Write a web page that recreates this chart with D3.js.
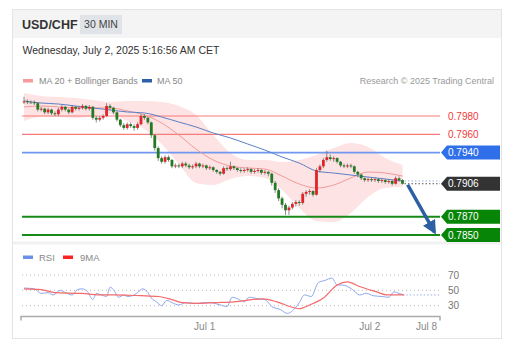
<!DOCTYPE html>
<html>
<head>
<meta charset="utf-8">
<script src="https://cdn.jsdelivr.net/npm/d3@7"></script>
<style>
body { margin: 0; background: #fff; font-family: "Liberation Sans", Arial, sans-serif; }
text { font-family: "Liberation Sans", Arial, sans-serif; }
</style>
</head>
<body>
<svg id="chart" width="519" height="358"></svg>
<script>
// 30 min candles, Sun 22:00 -> Wed 05:00
var firstOpen = 0.7995;
var closes = [0.7996,0.7995,0.7995,0.7994,0.7987,0.7988,0.7984,0.7987,0.7983,0.7982,
	0.7987,0.7990,0.7987,0.7984,0.7990,0.7988,0.7989,0.7991,0.7988,0.7990,
	0.7978,0.7976,0.7978,0.7980,0.7991,0.7989,0.7984,0.7976,0.7970,0.7967,
	0.7971,0.7969,0.7967,0.7971,0.7980,0.7978,0.7973,0.7959,0.7945,0.7934,
	0.7930,0.7935,0.7932,0.7925,0.7926,0.7925,0.7928,0.7926,0.7924,0.7925,
	0.7928,0.7925,0.7926,0.7923,0.7924,0.7921,0.7919,0.7917,0.7923,0.7922,
	0.7925,0.7923,0.7921,0.7920,0.7921,0.7922,0.7919,0.7920,0.7921,0.7918,
	0.7919,0.7917,0.7907,0.7899,0.7890,0.7883,0.7877,0.7880,0.7884,0.7886,
	0.7885,0.7895,0.7897,0.7898,0.7894,0.7921,0.7925,0.7932,0.7935,0.7933,
	0.7934,0.7930,0.7926,0.7925,0.7926,0.7925,0.7919,0.7916,0.7912,0.7910,
	0.7911,0.7910,0.7911,0.7909,0.7910,0.7908,0.7909,0.7906,0.7912,0.7910,
	0.7906];
var highs = [0.8001,0.7998,0.7997,0.7997,0.7995,0.7990,0.7989,0.7989,0.7988,0.7985,
	0.7989,0.7992,0.7991,0.7988,0.7992,0.7991,0.7991,0.7993,0.7992,0.7992,
	0.7991,0.7980,0.7980,0.7982,0.7994,0.7993,0.7990,0.7985,0.7977,0.7972,
	0.7973,0.7973,0.7971,0.7973,0.7982,0.7982,0.7979,0.7974,0.7960,0.7947,
	0.7936,0.7937,0.7937,0.7933,0.7928,0.7928,0.7930,0.7930,0.7928,0.7927,
	0.7930,0.7929,0.7928,0.7927,0.7926,0.7925,0.7922,0.7920,0.7925,0.7925,
	0.7930,0.7926,0.7924,0.7923,0.7923,0.7924,0.7923,0.7922,0.7923,0.7922,
	0.7921,0.7920,0.7918,0.7909,0.7901,0.7892,0.7885,0.7882,0.7886,0.7888,
	0.7888,0.7897,0.7899,0.7900,0.7899,0.7923,0.7927,0.7934,0.7942,0.7938,
	0.7936,0.7935,0.7931,0.7928,0.7928,0.7928,0.7926,0.7920,0.7917,0.7913,
	0.7913,0.7913,0.7913,0.7912,0.7912,0.7911,0.7911,0.7910,0.7914,0.7914,
	0.7911];
var lows = [0.7993,0.7993,0.7993,0.7992,0.7985,0.7985,0.7982,0.7982,0.7981,0.7980,
	0.7980,0.7985,0.7985,0.7982,0.7983,0.7986,0.7986,0.7987,0.7986,0.7986,
	0.7976,0.7973,0.7974,0.7976,0.7979,0.7987,0.7982,0.7974,0.7968,0.7965,
	0.7965,0.7967,0.7964,0.7965,0.7970,0.7976,0.7971,0.7956,0.7942,0.7931,
	0.7928,0.7928,0.7930,0.7923,0.7923,0.7923,0.7923,0.7924,0.7922,0.7922,
	0.7923,0.7923,0.7923,0.7921,0.7921,0.7919,0.7917,0.7915,0.7916,0.7920,
	0.7920,0.7921,0.7919,0.7918,0.7918,0.7919,0.7917,0.7917,0.7918,0.7916,
	0.7916,0.7914,0.7904,0.7896,0.7887,0.7879,0.7872,0.7872,0.7878,0.7881,
	0.7882,0.7883,0.7892,0.7894,0.7892,0.7893,0.7918,0.7923,0.7930,0.7931,
	0.7930,0.7928,0.7924,0.7923,0.7923,0.7923,0.7917,0.7913,0.7910,0.7908,
	0.7908,0.7908,0.7908,0.7907,0.7907,0.7906,0.7906,0.7904,0.7905,0.7908,
	0.7905];

// indicators, read every 5 candles
var maIdx = [0,5,10,15,20,25,30,35,40,45,50,55,60,65,70,75,80,85,90,95,100,105,110];
var bbUpper = [0.80052,0.80019,0.80008,0.79997,0.79975,0.79953,0.79964,0.79964,0.79953,0.79909,0.79811,0.79592,
	0.79396,0.79319,0.79319,0.79297,0.79319,0.79374,0.79450,0.79505,0.79461,0.79341,0.79264];
var ma20 = [0.79899,0.79909,0.79899,0.79888,0.79888,0.79888,0.79855,0.79811,0.79724,0.79592,0.79439,0.79319,
	0.79254,0.79232,0.79221,0.79144,0.79057,0.79013,0.79046,0.79123,0.79188,0.79177,0.79144];
var bbLower = [0.79745,0.79789,0.79789,0.79778,0.79800,0.79822,0.79745,0.79658,0.79494,0.79275,0.79068,0.79046,
	0.79112,0.79144,0.79123,0.78991,0.78795,0.78653,0.78642,0.78740,0.78915,0.79013,0.79024];
var ma50 = [0.79964,0.79942,0.79931,0.79909,0.79888,0.79866,0.79844,0.79833,0.79789,0.79734,0.79680,0.79614,
	0.79560,0.79494,0.79428,0.79352,0.79286,0.79199,0.79177,0.79155,0.79133,0.79112,0.79090];

// key levels
var levels = [0.7980, 0.7960, 0.7940, 0.7906, 0.7870, 0.7850];
var levelKinds = ["res", "res", "pivot", "last", "sup", "sup"];
var target = 0.7851;

// RSI panel
var rsiIdx = [0,3,5,7,8.5,10.5,12,14,15.5,17,18.5,20,21,22.5,24,25,26,27.5,29,30,31.5,33,34.5,36,37,38.5,40,41.5,43,45,
	47,49,50.5,52,54,57,59,60.5,63,64,65.5,68,70,72,74.5,76.5,79,80,81.5,83.5,85.5,87.5,89.5,91,92.5,95.5,97.5,99.5,
	101.5,104,106,107.5,109,110.5];
var rsiVal = [53,52,46,47,44,50,47,44,51,52,48,38,46,44,42,54,51,41,44,42,43,47,52,47,40,35,30,37,34,31,
	34,33,33,34,34,31,29,41,37,35,41,39,38,29,25,20,28,34,44,42,60,63,66,57,57,51,44,46,
	43,42,41,48,46,44];
var maRsiIdx = [0,5,9,17,21.5,26.5,34,39,43,46,50.5,55.5,61,69.5,73.5,78,80,83,87,91,94,97.5,102.5,105.5,110.5];
var maRsiVal = [52,51,47,46,44,44,43,42,38,34,33,34,35,39,35,28,26,31,40,57,61,55,48,44,44];
var rsiTicks = [70, 50, 30];

var dateTicks = [52.5, 100.5, 117];
var dateLabels = ["Jul 1", "Jul 2", "Jul 8"];

// layout
var plotLeft = 22, plotRight = 440;

var svg = d3.select("#chart");

var xScale = d3.scaleLinear().domain([0, 110]).range([24, 402.5]);
var yScale = d3.scaleLinear().domain([0.7850, 0.7980]).range([235, 116]);
var rScale = d3.scaleLinear().domain([30, 70]).range([305.7, 275]);

// card + header
svg.append("rect").attr("x", 12.5).attr("y", 9.5).attr("width", 489).attr("height", 329)
	.attr("fill", "#fff").attr("stroke", "#e4e4e4");
svg.append("rect").attr("x", 13).attr("y", 10).attr("width", 488).attr("height", 28).attr("fill", "#f4f4f4");
svg.append("text").attr("x", 22).attr("y", 28.5).attr("font-size", "12.5px").attr("font-weight", "bold")
	.attr("fill", "#333").text("USD/CHF");
svg.append("rect").attr("x", 80).attr("y", 15).attr("width", 42).attr("height", 19).attr("fill", "#e0e3e8");
svg.append("text").attr("x", 101).attr("y", 28).attr("text-anchor", "middle").attr("font-size", "10.5px")
	.attr("fill", "#444").text("30 MIN");
svg.append("text").attr("x", 22.5).attr("y", 53.5).attr("font-size", "10.5px").attr("fill", "#333")
	.text("Wednesday, July 2, 2025 5:16:56 AM CET");

// legend
svg.append("rect").attr("x", 23).attr("y", 79).attr("width", 10).attr("height", 3.5).attr("fill", "#f69a9a");
svg.append("text").attr("x", 39).attr("y", 83.5).attr("font-size", "9px").attr("fill", "#888").text("MA 20 + Bollinger Bands");
svg.append("rect").attr("x", 142).attr("y", 79).attr("width", 10).attr("height", 3.5).attr("fill", "#2f5fa8");
svg.append("text").attr("x", 157).attr("y", 83.5).attr("font-size", "9px").attr("fill", "#888").text("MA 50");
svg.append("text").attr("x", 494).attr("y", 83.5).attr("text-anchor", "end").attr("font-size", "9px")
	.attr("fill", "#999").text("Research \u00a9 2025 Trading Central");

// panel separator
svg.append("rect").attr("x", 13).attr("y", 241.5).attr("width", 488).attr("height", 3).attr("fill", "#f1f1f1");

// bollinger band
var bandData = maIdx.map(function(d, i) { return {i: d, hi: bbUpper[i], lo: bbLower[i], mid: ma20[i], ma: ma50[i]}; });
var area = d3.area().curve(d3.curveMonotoneX)
	.x(function(d) { return xScale(d.i); })
	.y0(function(d) { return yScale(d.lo); })
	.y1(function(d) { return yScale(d.hi); });
svg.append("path").datum(bandData).attr("d", area).attr("fill", "#fde3e3");

// level lines
var levelColor = {res: "#f77b7b", pivot: "#6f98ee", last: "#333", sup: "#178a17"};
levels.forEach(function(v, i) {
	var k = levelKinds[i];
	if (k == "last") return;
	svg.append("line")
		.attr("x1", plotLeft).attr("x2", plotRight)
		.attr("y1", yScale(v)).attr("y2", yScale(v))
		.attr("stroke", levelColor[k])
		.attr("stroke-width", k == "sup" ? 2 : (k == "pivot" ? 1.6 : 1.2));
});

// moving averages
var lineMid = d3.line().curve(d3.curveMonotoneX)
	.x(function(d) { return xScale(d.i); }).y(function(d) { return yScale(d.mid); });
var lineMa = d3.line().curve(d3.curveMonotoneX)
	.x(function(d) { return xScale(d.i); }).y(function(d) { return yScale(d.ma); });
svg.append("path").datum(bandData).attr("d", lineMid).attr("fill", "none").attr("stroke", "#f29a9a").attr("stroke-width", 1);
svg.append("path").datum(bandData).attr("d", lineMa).attr("fill", "none").attr("stroke", "#5b80c4").attr("stroke-width", 1);

// candles
var candles = closes.map(function(c, i) {
	return {i: i, o: i ? closes[i - 1] : firstOpen, h: highs[i], l: lows[i], c: c};
});
var cg = svg.append("g").attr("id", "candles");
cg.selectAll("line").data(candles).enter().append("line")
	.attr("x1", function(d) { return xScale(d.i); })
	.attr("x2", function(d) { return xScale(d.i); })
	.attr("y1", function(d) { return yScale(d.h); })
	.attr("y2", function(d) { return yScale(d.l); })
	.attr("stroke", "#6f6f6f").attr("stroke-width", 0.8);
cg.selectAll("rect").data(candles).enter().append("rect")
	.attr("x", function(d) { return xScale(d.i) - 1.4; })
	.attr("width", 2.8)
	.attr("y", function(d) { return yScale(Math.max(d.o, d.c)); })
	.attr("height", function(d) { return Math.max(1, Math.abs(yScale(d.o) - yScale(d.c))); })
	.attr("fill", function(d) { return d.c > d.o ? "#e0242a" : (d.c < d.o ? "#237a23" : "#777"); });

// dotted extensions
var lastI = closes.length - 1;
svg.append("line").attr("x1", xScale(lastI) + 2).attr("x2", plotRight)
	.attr("y1", yScale(ma50[ma50.length - 1])).attr("y2", yScale(ma50[ma50.length - 1]))
	.attr("stroke", "#9db3dc").attr("stroke-dasharray", "1.5,2");
svg.append("line").attr("x1", xScale(lastI) + 2).attr("x2", plotRight)
	.attr("y1", yScale(closes[lastI])).attr("y2", yScale(closes[lastI]))
	.attr("stroke", "#555").attr("stroke-dasharray", "1.5,2");

// forecast arrow
var defs = svg.append("defs");
defs.append("marker").attr("id", "head").attr("viewBox", "0 0 10 10")
	.attr("refX", 8).attr("refY", 5).attr("markerWidth", 14).attr("markerHeight", 14)
	.attr("markerUnits", "userSpaceOnUse").attr("orient", "auto")
	.append("path").attr("d", "M0,0 L10,5 L0,10 Z").attr("fill", "#2c5fa3");
svg.append("line")
	.attr("x1", xScale(lastI + 1.5)).attr("y1", yScale(closes[lastI]) + 1)
	.attr("x2", xScale(lastI + 9.3)).attr("y2", yScale(target) - 2)
	.attr("stroke", "#2c5fa3").attr("stroke-width", 3.5).attr("marker-end", "url(#head)");

// level labels
var badgeFill = {pivot: "#2f6fe9", last: "#333", sup: "#078507"};
levels.forEach(function(v, i) {
	var k = levelKinds[i];
	var y = yScale(v);
	if (k == "res") {
		svg.append("text").attr("x", 448).attr("y", y + 3.5).attr("font-size", "10px")
			.attr("fill", "#f03a3a").text(v.toFixed(4));
		return;
	}
	var x0 = 441, x1 = 500, h = 14;
	svg.append("path")
		.attr("d", "M" + x0 + "," + y + "L" + (x0 + 6) + "," + (y - h / 2) + "L" + x1 + "," + (y - h / 2) +
			"L" + x1 + "," + (y + h / 2) + "L" + (x0 + 6) + "," + (y + h / 2) + "Z")
		.attr("fill", badgeFill[k]);
	svg.append("text").attr("x", 448).attr("y", y + 3.5).attr("font-size", "10px")
		.attr("fill", "#fff").text(v.toFixed(4));
});

// RSI legend
svg.append("rect").attr("x", 23).attr("y", 255.5).attr("width", 10).attr("height", 3.5).attr("fill", "#6d8fe6");
svg.append("text").attr("x", 39).attr("y", 260.5).attr("font-size", "9.5px").attr("fill", "#888").text("RSI");
svg.append("rect").attr("x", 63).attr("y", 255.5).attr("width", 10).attr("height", 3.5).attr("fill", "#f22");
svg.append("text").attr("x", 80).attr("y", 260.5).attr("font-size", "9.5px").attr("fill", "#888").text("9MA");

// RSI grid
rsiTicks.forEach(function(v) {
	svg.append("line").attr("x1", plotLeft).attr("x2", plotRight)
		.attr("y1", rScale(v)).attr("y2", rScale(v))
		.attr("stroke", "#bbb").attr("stroke-dasharray", "1,3");
	svg.append("text").attr("x", 448).attr("y", rScale(v) + 3.5).attr("font-size", "10px")
		.attr("fill", "#777").text(v);
});

var rsiLine = d3.line().curve(d3.curveMonotoneX)
	.x(function(d) { return xScale(d[0]); }).y(function(d) { return rScale(d[1]); });
svg.append("path").datum(rsiIdx.map(function(d, i) { return [d, rsiVal[i]]; }))
	.attr("d", rsiLine).attr("fill", "none").attr("stroke", "#8ea8ef").attr("stroke-width", 1);
svg.append("path").datum(maRsiIdx.map(function(d, i) { return [d, maRsiVal[i]]; }))
	.attr("d", rsiLine).attr("fill", "none").attr("stroke", "#f46a6a").attr("stroke-width", 1.2);
svg.append("line").attr("x1", xScale(rsiIdx[rsiIdx.length - 1]) + 2).attr("x2", plotRight)
	.attr("y1", rScale(rsiVal[rsiVal.length - 1])).attr("y2", rScale(rsiVal[rsiVal.length - 1]))
	.attr("stroke", "#9db3ee").attr("stroke-dasharray", "1.5,2");

// time axis
var axisY = 316.5;
svg.append("path")
	.attr("d", "M" + (plotLeft - 1) + "," + (axisY + 4) + "V" + axisY + "H" + plotRight + "V" + (axisY + 4))
	.attr("fill", "none").attr("stroke", "#aaa").attr("stroke-width", 1.5);
dateTicks.forEach(function(t, i) {
	svg.append("text").attr("x", xScale(t)).attr("y", 330).attr("text-anchor", "middle")
		.attr("font-size", "10px").attr("fill", "#888").text(dateLabels[i]);
});
</script>
</body>
</html>
